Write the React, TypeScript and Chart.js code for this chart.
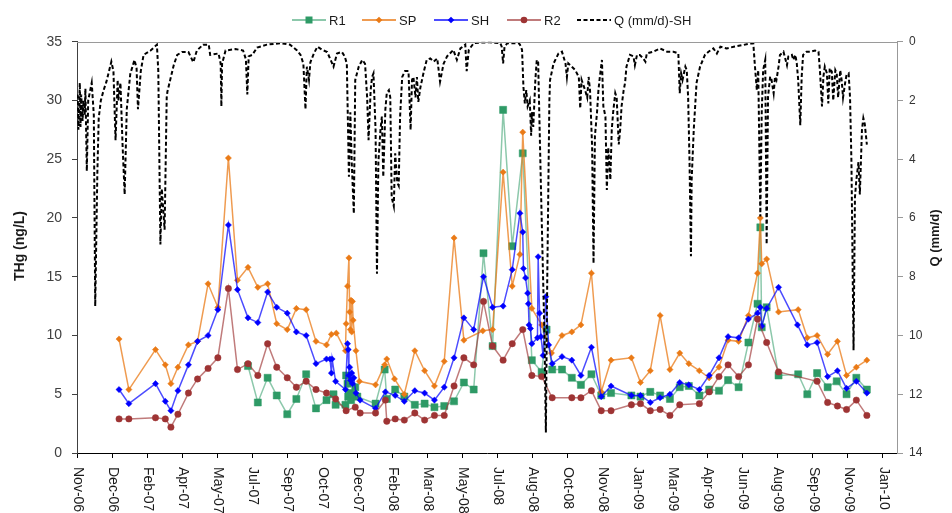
import React, { useEffect, useRef } from 'react';
import { Chart, registerables } from 'chart.js';

Chart.register(...registerables);

const FONT = '"Liberation Sans", Arial, Helvetica, sans-serif';

// Day 0 of the time axis is 10 Nov 2006; every x value below is a day count from it.
const ORIGIN_UTC = Date.UTC(2006, 10, 10);
const MONTHS = ['Jan', 'Feb', 'Mar', 'Apr', 'May', 'Jun', 'Jul', 'Aug', 'Sep', 'Oct', 'Nov', 'Dec'];
const X_MAX_DAY = 1170;
const xTickDays = [0, 50, 100, 150, 200, 250, 300, 350, 400, 450, 500, 550, 600, 650, 700, 750, 800, 850, 900, 950, 1000, 1050, 1100, 1150];

// THg (ng/L) per sampling day, [day, value]
const r1: [number, number][] = [
  [244, 7.4], [258, 4.3], [272, 6.4], [285, 4.9], [300, 3.3], [313, 4.6], [327, 6.7], [341, 3.8], [356, 4.5], [366, 5.0],
  [369, 4.1], [383, 4.1], [384, 6.6], [386, 5.9], [387, 4.8], [389, 5.1], [391, 4.5], [393, 5.0], [397, 5.6], [400, 4.8],
  [426, 4.2], [439, 7.1], [442, 4.6], [454, 5.4], [467, 4.8], [482, 4.1], [496, 4.2], [510, 3.9], [524, 4.0], [538, 4.4],
  [552, 6.0], [566, 5.4], [580, 17.0], [593, 9.1], [608, 29.2], [621, 17.6], [636, 25.5], [649, 7.9], [663, 6.9], [670, 10.5],
  [678, 7.1], [692, 7.1], [706, 6.4], [719, 5.8], [734, 6.7], [748, 4.9], [762, 5.1], [791, 4.9], [804, 4.8], [818, 5.2],
  [832, 4.9], [846, 4.6], [860, 5.6], [873, 5.7], [888, 4.9], [902, 5.4], [916, 5.3], [929, 6.2], [944, 5.6], [958, 9.4],
  [971, 12.7], [975, 19.2], [977, 10.7], [984, 12.4], [1001, 6.6], [1029, 6.7], [1042, 5.0], [1056, 6.8], [1071, 5.6], [1084, 6.1],
  [1098, 5.0], [1112, 6.4], [1127, 5.4],
];

const sp: [number, number][] = [
  [60, 9.7], [74, 5.4], [112, 8.8], [126, 7.5], [134, 5.9], [144, 7.3], [159, 9.2], [172, 9.5], [187, 14.4], [201, 12.4],
  [216, 25.1], [229, 14.7], [244, 15.8], [258, 14.1], [272, 14.4], [285, 11.0], [300, 10.5], [313, 12.3], [327, 12.2], [341, 9.5],
  [356, 9.2], [363, 10.1], [370, 10.2], [383, 8.7], [384, 11.0], [386, 14.2], [388, 16.6], [389, 12.0], [390, 10.5], [391, 13.0],
  [392, 10.3], [393, 12.9], [394, 11.3], [398, 8.7], [403, 6.1], [426, 5.8], [439, 7.5], [442, 8.0], [453, 6.3], [467, 5.0],
  [482, 8.7], [496, 7.0], [510, 5.7], [524, 7.8], [538, 18.3], [552, 9.6], [579, 10.4], [593, 10.5], [608, 23.9], [621, 14.2],
  [632, 16.9], [636, 27.3], [649, 12.3], [663, 10.9], [677, 8.5], [692, 10.0], [706, 10.3], [719, 10.9], [734, 15.3], [748, 5.2],
  [762, 7.9], [791, 8.1], [804, 6.0], [818, 7.0], [832, 11.7], [846, 7.1], [860, 8.5], [873, 7.6], [888, 7.0], [902, 6.4],
  [916, 7.3], [929, 9.6], [944, 9.5], [958, 11.7], [971, 15.3], [975, 20.0], [977, 16.1], [984, 16.5], [1001, 12.0], [1029, 12.2],
  [1042, 9.8], [1056, 10.0], [1071, 8.4], [1085, 9.5], [1098, 6.6], [1112, 7.3], [1127, 7.9],
];

const sh: [number, number][] = [
  [60, 5.4], [74, 4.2], [112, 5.9], [126, 4.4], [134, 3.6], [144, 5.3], [159, 7.5], [172, 9.5], [187, 10.0], [201, 12.2],
  [216, 19.4], [229, 13.9], [244, 11.5], [258, 11.1], [272, 13.7], [285, 12.4], [300, 11.9], [313, 10.3], [327, 10.0], [341, 7.6],
  [356, 8.0], [361, 8.0], [363, 6.8], [364, 8.0], [369, 6.1], [383, 5.4], [386, 9.3], [387, 8.8], [388, 6.6], [389, 7.3],
  [390, 6.2], [392, 6.8], [393, 5.9], [395, 6.4], [398, 5.1], [404, 4.5], [426, 3.8], [440, 5.2], [454, 4.9], [467, 4.4],
  [482, 5.3], [496, 5.1], [510, 4.5], [524, 5.6], [538, 8.1], [552, 11.5], [566, 10.5], [580, 15.0], [593, 12.4], [608, 12.5],
  [621, 15.6], [632, 20.4], [636, 18.8], [637, 15.7], [640, 14.9], [643, 13.6], [644, 12.7], [645, 10.9], [647, 10.6], [649, 9.3],
  [657, 9.8], [658, 16.7], [660, 11.9], [662, 9.9], [665, 8.3], [669, 13.3], [673, 9.2], [678, 7.6], [692, 8.2], [706, 7.9],
  [719, 6.6], [734, 9.0], [748, 4.8], [762, 5.7], [791, 4.9], [804, 4.9], [818, 4.3], [832, 4.7], [846, 5.0], [860, 6.0],
  [873, 5.8], [888, 5.4], [902, 6.6], [916, 8.1], [929, 9.9], [944, 9.8], [958, 11.4], [971, 11.9], [975, 12.4], [977, 10.8],
  [984, 12.3], [1001, 14.1], [1028, 10.9], [1042, 9.2], [1056, 9.4], [1071, 6.5], [1085, 7.0], [1098, 5.5], [1112, 6.1], [1127, 5.1],
];

const r2: [number, number][] = [
  [60, 2.9], [74, 2.9], [112, 3.0], [126, 2.9], [134, 2.2], [144, 3.3], [159, 5.1], [172, 6.3], [187, 7.2], [201, 8.1],
  [216, 14.0], [229, 7.1], [244, 7.6], [258, 6.6], [272, 9.3], [285, 7.3], [300, 6.4], [313, 5.6], [327, 6.1], [341, 5.4],
  [356, 5.1], [369, 4.6], [384, 3.6], [397, 3.9], [404, 3.4], [426, 3.4], [440, 4.5], [442, 2.7], [454, 2.9], [467, 2.8],
  [482, 3.4], [496, 2.8], [510, 3.2], [524, 3.2], [538, 5.7], [552, 8.1], [566, 7.5], [580, 12.9], [593, 9.1], [608, 7.9],
  [621, 9.3], [636, 10.5], [649, 6.6], [663, 6.5], [678, 4.7], [706, 4.7], [719, 4.7], [734, 5.3], [748, 3.6], [762, 3.6],
  [791, 4.1], [804, 4.2], [818, 3.6], [832, 3.7], [846, 3.2], [860, 4.1], [888, 4.2], [902, 5.2], [916, 6.5], [929, 7.5],
  [944, 6.5], [958, 7.5], [971, 11.4], [984, 9.4], [1001, 6.9], [1056, 6.1], [1071, 4.3], [1085, 4.0], [1098, 3.7], [1112, 4.5],
  [1127, 3.2],
];

// Daily discharge at SH, Q (mm/d), [day, value]
const qSh: [number, number][] = [
  [1, 1.8], [2, 3.0], [4, 1.4], [5, 2.9], [6, 1.8], [8, 2.7], [9, 2.0], [11, 2.5], [12, 1.6], [14, 4.4],
  [16, 2.0], [21, 1.4], [24, 2.5], [26, 9.0], [29, 4.5], [31, 2.6], [34, 2.0], [38, 1.65], [42, 1.36], [49, 0.68],
  [52, 1.0], [55, 3.35], [58, 1.3], [59, 2.0], [62, 1.4], [65, 3.5], [68, 5.2], [71, 2.3], [76, 1.1], [82, 0.62],
  [85, 0.9], [87, 2.3], [91, 1.0], [95, 0.45], [105, 0.3], [114, 0.1], [116, 1.0], [119, 6.9], [121, 5.0], [125, 6.4],
  [128, 1.9], [129, 1.7], [133, 1.3], [138, 0.8], [143, 0.45], [150, 0.35], [159, 0.35], [166, 0.7], [171, 0.3], [180, 0.1],
  [188, 0.1], [190, 0.45], [202, 0.4], [205, 0.75], [206, 2.2], [207, 0.75], [212, 0.3], [226, 0.25], [237, 0.3], [241, 0.6],
  [243, 1.8], [245, 0.5], [250, 0.45], [257, 0.2], [271, 0.1], [290, 0.05], [304, 0.1], [314, 0.3], [319, 0.45], [323, 0.75],
  [326, 2.3], [328, 0.85], [331, 1.3], [333, 0.7], [338, 0.4], [343, 0.17], [350, 0.28], [357, 0.35], [366, 0.85], [371, 0.4],
  [378, 0.35], [382, 0.5], [385, 0.75], [388, 4.6], [390, 2.4], [392, 4.1], [395, 5.85], [397, 1.3], [402, 0.85], [407, 0.62],
  [411, 0.75], [414, 1.9], [416, 3.35], [419, 1.65], [421, 1.2], [423, 1.08], [426, 3.0], [428, 7.9], [430, 4.1], [433, 3.0],
  [435, 2.55], [437, 4.6], [440, 2.3], [442, 1.75], [445, 1.65], [447, 1.9], [449, 5.3], [452, 5.6], [454, 3.8], [457, 4.8],
  [459, 4.9], [461, 2.55], [464, 1.2], [468, 1.0], [473, 1.0], [476, 3.0], [478, 1.3], [480, 1.2], [483, 1.9], [485, 1.2],
  [487, 2.05], [490, 1.55], [495, 1.0], [499, 0.62], [504, 0.57], [509, 0.68], [514, 0.57], [518, 1.36], [523, 0.75], [528, 0.5],
  [537, 0.28], [542, 0.62], [547, 0.23], [554, 0.1], [556, 1.0], [559, 0.28], [566, 0.05], [575, 0.03], [589, 0.02], [604, 0.05],
  [606, 0.17], [608, 0.74], [610, 0.17], [614, 0.05], [630, 0.05], [632, 0.1], [635, 0.28], [637, 1.55], [639, 2.1], [641, 1.65],
  [643, 2.2], [646, 2.0], [648, 3.2], [649, 2.4], [651, 2.9], [654, 1.3], [656, 0.62], [658, 0.7], [662, 5.0], [667, 10.0],
  [669, 13.3], [671, 8.0], [674, 2.0], [675, 1.3], [680, 0.74], [687, 0.4], [692, 0.34], [697, 0.74], [699, 1.2], [701, 0.74],
  [706, 0.85], [711, 0.97], [716, 1.2], [718, 2.27], [720, 1.3], [725, 1.65], [728, 1.9], [730, 1.2], [732, 1.65], [735, 3.6],
  [737, 7.55], [739, 3.2], [742, 2.4], [744, 1.65], [746, 1.2], [749, 0.62], [751, 2.2], [754, 2.55], [756, 5.05], [758, 3.6],
  [761, 4.7], [763, 3.0], [765, 2.4], [768, 1.75], [770, 1.9], [773, 3.5], [775, 3.0], [777, 2.2], [780, 1.65], [782, 1.4],
  [784, 0.85], [789, 0.45], [794, 0.5], [796, 0.8], [799, 0.45], [803, 0.45], [808, 0.57], [811, 0.68], [813, 0.4], [822, 0.34],
  [832, 0.23], [842, 0.34], [851, 0.34], [858, 0.4], [860, 1.75], [862, 1.08], [864, 1.3], [868, 0.85], [870, 0.97], [872, 1.9],
  [874, 4.1], [876, 7.3], [877, 4.7], [880, 3.0], [884, 1.4], [889, 0.85], [896, 0.45], [901, 0.34], [908, 0.23], [913, 0.4],
  [918, 0.17], [927, 0.23], [937, 0.17], [951, 0.11], [960, 0.06], [965, 0.06], [967, 0.74], [970, 1.65], [972, 0.97], [975, 5.95],
  [977, 2.4], [979, 0.97], [982, 0.62], [984, 6.9], [986, 1.87], [989, 1.19], [991, 1.3], [994, 1.76], [996, 1.19], [998, 1.3],
  [1001, 0.85], [1003, 0.45], [1008, 0.34], [1013, 0.8], [1015, 0.5], [1020, 0.45], [1022, 0.62], [1025, 0.45], [1027, 0.74], [1029, 1.3],
  [1032, 2.84], [1034, 1.19], [1036, 0.45], [1041, 0.34], [1046, 0.34], [1053, 0.3], [1058, 0.34], [1060, 0.97], [1063, 2.2], [1065, 1.19],
  [1067, 0.85], [1070, 1.08], [1072, 2.1], [1074, 0.9], [1077, 1.02], [1079, 2.0], [1082, 0.97], [1084, 1.08], [1086, 1.9], [1089, 0.97],
  [1091, 1.3], [1093, 1.9], [1096, 1.4], [1098, 1.13], [1101, 1.08], [1103, 1.9], [1105, 4.1], [1108, 10.5], [1110, 5.3], [1112, 4.7],
  [1115, 4.1], [1117, 5.2], [1120, 3.0], [1122, 2.6], [1124, 2.8], [1127, 3.5],
];

const COLORS = {
  r1: { marker: '#2e9a66', line: 'rgba(46,154,102,0.55)' },
  sp: { marker: '#ea7a16', line: 'rgba(234,122,22,0.75)' },
  sh: { marker: '#0000ff', line: 'rgba(0,0,255,0.7)' },
  r2: { marker: '#9e3434', line: 'rgba(158,52,52,0.65)' },
};

function dayLabel(day: number): string {
  const d = new Date(ORIGIN_UTC + day * 86400000);
  return `${MONTHS[d.getUTCMonth()]}-${String(d.getUTCFullYear() % 100).padStart(2, '0')}`;
}

const toPoints = (rows: [number, number][]) => rows.map(([x, y]) => ({ x, y }));

function drawMarker(ctx: CanvasRenderingContext2D, kind: string, x: number, y: number, color: string) {
  ctx.fillStyle = color;
  ctx.beginPath();
  if (kind === 'rect') {
    ctx.rect(x - 3.5, y - 3.5, 7, 7);
  } else if (kind === 'rectRot') {
    ctx.moveTo(x - 3.3, y);
    ctx.lineTo(x, y - 3.3);
    ctx.lineTo(x + 3.3, y);
    ctx.lineTo(x, y + 3.3);
    ctx.closePath();
  } else {
    ctx.arc(x, y, 3.3, 0, Math.PI * 2);
  }
  ctx.fill();
}

const legendItems = [
  { text: 'R1', start: 292, line: COLORS.r1.line, marker: COLORS.r1.marker, kind: 'rect' },
  { text: 'SP', start: 362, line: COLORS.sp.line, marker: COLORS.sp.marker, kind: 'rectRot' },
  { text: 'SH', start: 434, line: COLORS.sh.line, marker: COLORS.sh.marker, kind: 'rectRot' },
  { text: 'R2', start: 507, line: COLORS.r2.line, marker: COLORS.r2.marker, kind: 'circle' },
  { text: 'Q (mm/d)-SH', start: 577, line: '#000', marker: '', kind: 'dash' },
];

const decorations = {
  id: 'decorations',
  afterDraw(chart: any) {
    const { ctx, chartArea: a, scales } = chart;
    ctx.save();

    // top edge of the plot frame
    ctx.strokeStyle = '#9a9a9a';
    ctx.lineWidth = 1;
    ctx.beginPath();
    ctx.moveTo(a.left, Math.round(a.top) + 0.5);
    ctx.lineTo(a.right, Math.round(a.top) + 0.5);
    ctx.stroke();

    // date labels, turned to read downward
    ctx.fillStyle = '#1a1a1a';
    ctx.font = `14px ${FONT}`;
    ctx.textAlign = 'left';
    ctx.textBaseline = 'middle';
    for (const v of xTickDays) {
      const px = scales.x.getPixelForValue(v);
      ctx.save();
      ctx.translate(px + 0.5, a.bottom + 14);
      ctx.rotate(Math.PI / 2);
      ctx.fillText(dayLabel(v), 0, 0);
      ctx.restore();
    }

    // axis titles
    ctx.textAlign = 'center';
    ctx.font = `bold 14px ${FONT}`;
    ctx.save();
    ctx.translate(20.5, 246);
    ctx.rotate(-Math.PI / 2);
    ctx.fillText('THg (ng/L)', 0, 0);
    ctx.restore();
    ctx.font = `bold 13px ${FONT}`;
    ctx.save();
    ctx.translate(935.5, 238);
    ctx.rotate(-Math.PI / 2);
    ctx.fillText('Q (mm/d)', 0, 0);
    ctx.restore();

    // legend
    const ly = 20;
    ctx.font = `13px ${FONT}`;
    ctx.textAlign = 'left';
    for (const it of legendItems) {
      ctx.strokeStyle = it.line;
      ctx.lineWidth = 2;
      ctx.setLineDash(it.kind === 'dash' ? [4, 2.5] : []);
      ctx.beginPath();
      ctx.moveTo(it.start, ly);
      ctx.lineTo(it.start + 34, ly);
      ctx.stroke();
      ctx.setLineDash([]);
      if (it.kind !== 'dash') drawMarker(ctx, it.kind, it.start + 17, ly, it.marker);
      ctx.fillStyle = '#1a1a1a';
      ctx.fillText(it.text, it.start + 37, ly + 1);
    }
    ctx.restore();
  },
};

function sampleDataset(label: string, rows: [number, number][], c: { marker: string; line: string }, style: string, radius: number, order: number) {
  return {
    label,
    data: toPoints(rows),
    yAxisID: 'y',
    borderColor: c.line,
    borderWidth: 1.5,
    pointStyle: style,
    pointRadius: radius,
    pointBackgroundColor: c.marker,
    pointBorderColor: c.marker,
    pointBorderWidth: 0.5,
    order,
  };
}

export default function App() {
  const canvasRef = useRef<HTMLCanvasElement | null>(null);

  useEffect(() => {
    const canvas = canvasRef.current;
    if (!canvas) return;
    const chart = new Chart(canvas, {
      type: 'line',
      data: {
        datasets: [
          sampleDataset('R1', r1, COLORS.r1, 'rect', 5, 5),
          sampleDataset('SP', sp, COLORS.sp, 'rectRot', 3.1, 4),
          sampleDataset('SH', sh, COLORS.sh, 'rectRot', 3.1, 3),
          sampleDataset('R2', r2, COLORS.r2, 'circle', 3.2, 2),
          {
            label: 'Q (mm/d)-SH',
            data: toPoints(qSh),
            yAxisID: 'y2',
            borderColor: '#000',
            borderWidth: 2,
            borderDash: [4, 2.5],
            pointRadius: 0,
            order: 1,
          },
        ],
      },
      options: {
        animation: false,
        responsive: false,
        devicePixelRatio: 1,
        layout: { padding: { top: 41.7, left: 0, right: 0, bottom: 0 }, autoPadding: false },
        plugins: { legend: { display: false }, tooltip: { enabled: false } },
        elements: { line: { tension: 0 } },
        scales: {
          x: {
            type: 'linear',
            min: 0,
            max: X_MAX_DAY,
            afterBuildTicks: (s: any) => {
              s.ticks = xTickDays.map((value) => ({ value }));
            },
            afterFit: (s: any) => {
              s.height = 60;
            },
            ticks: { display: false },
            grid: { display: true, drawOnChartArea: false, drawTicks: true, tickLength: 5, color: '#000' },
            border: { display: true, color: '#000', width: 1 },
          },
          y: {
            type: 'linear',
            position: 'left',
            min: 0,
            max: 35,
            afterFit: (s: any) => {
              s.width = 77;
            },
            ticks: { stepSize: 5, padding: 10, color: '#404040', font: { family: FONT, size: 14 } },
            grid: { drawOnChartArea: false, drawTicks: true, tickLength: 5, color: '#404040' },
            border: { display: true, color: '#404040', width: 1 },
          },
          y2: {
            type: 'linear',
            position: 'right',
            reverse: true,
            min: 0,
            max: 14,
            afterFit: (s: any) => {
              s.width = 55;
            },
            ticks: { stepSize: 2, padding: 6, color: '#333', font: { family: FONT, size: 12 } },
            grid: { drawOnChartArea: false, drawTicks: true, tickLength: 6, color: '#999' },
            border: { display: true, color: '#999', width: 1 },
          },
        },
      },
      plugins: [decorations],
    } as any);
    return () => chart.destroy();
  }, []);

  return (
    <div style={{ position: 'fixed', left: 0, top: 0, width: 952, height: 513, background: '#fff' }}>
      <canvas ref={canvasRef} width={952} height={513} style={{ display: 'block' }} />
    </div>
  );
}
